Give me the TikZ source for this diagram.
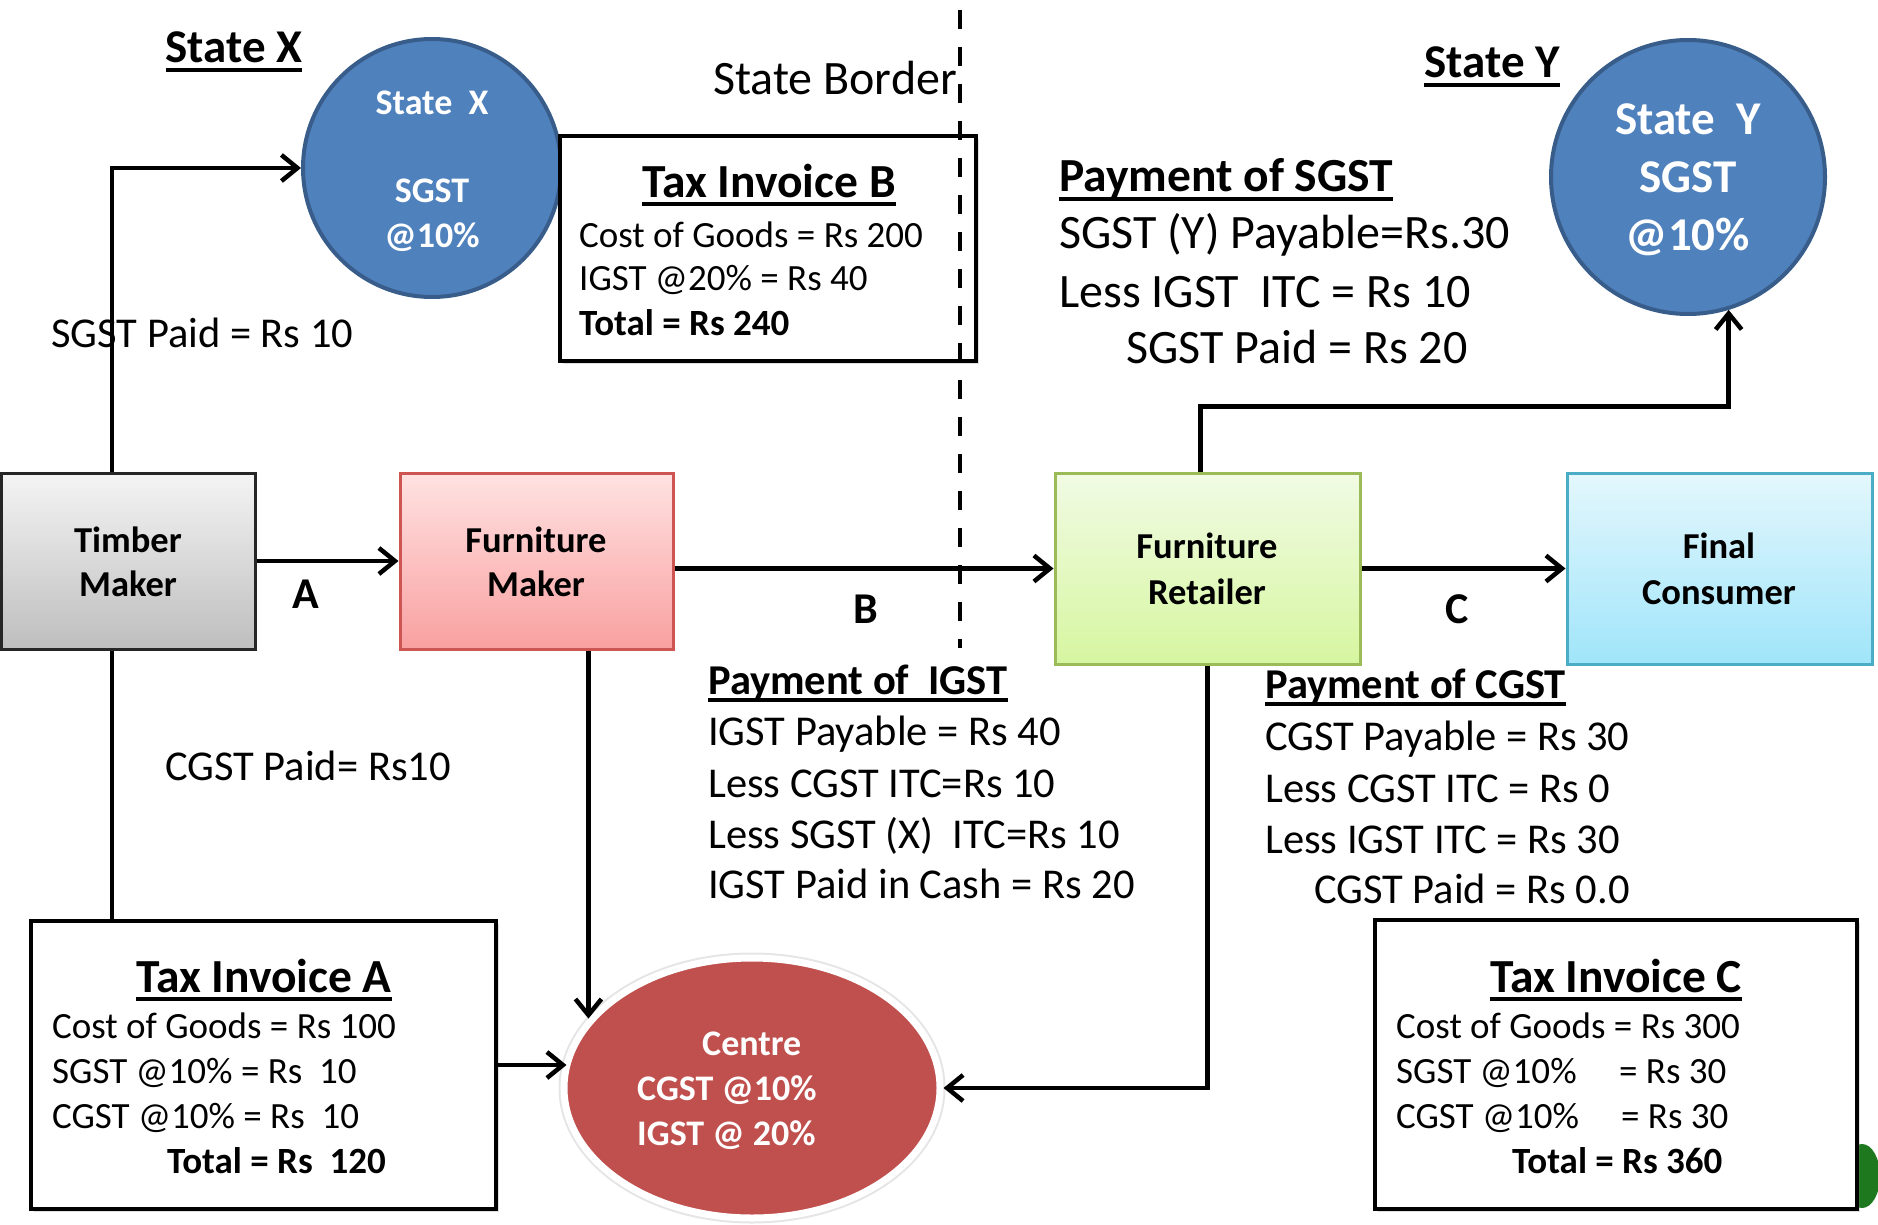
\documentclass[tikz,border=0pt]{standalone}
\usepackage{fontspec}
\setmainfont{Carlito}
\usetikzlibrary{arrows.meta,shapes.geometric,shadows}
\definecolor{sgstblue}{RGB}{79,129,189}
\definecolor{sgstdark}{RGB}{56,93,138}
\definecolor{centrered}{RGB}{192,80,77}
\definecolor{fmtop}{RGB}{255,226,226}
\definecolor{fmbot}{RGB}{249,160,160}
\definecolor{fmline}{RGB}{205,85,82}
\definecolor{frtop}{RGB}{241,251,228}
\definecolor{frbot}{RGB}{214,246,160}
\definecolor{frline}{RGB}{155,187,89}
\definecolor{fctop}{RGB}{228,247,253}
\definecolor{fcbot}{RGB}{160,229,250}
\definecolor{fcline}{RGB}{75,172,198}
\definecolor{tmtop}{RGB}{244,244,244}
\definecolor{tmbot}{RGB}{190,190,190}
\definecolor{logogreen}{RGB}{30,120,30}
\newcommand\myul[1]{\leavevmode\sbox0{#1}\rlap{\rule[-0.19em]{\wd0}{0.09em}}\usebox0}
\begin{document}
\begin{tikzpicture}[x=1pt,y=-1pt,
  txt/.style={inner sep=0pt, anchor=base west},
  ctxt/.style={inner sep=0pt, anchor=base},
  f37/.style={font=\fontsize{37}{44}\selectfont},
  f37b/.style={font=\fontsize{37}{44}\selectfont\bfseries},
  f42/.style={font=\fontsize{42.5}{50}\selectfont},
  f42b/.style={font=\fontsize{42.5}{50}\selectfont\bfseries},
  f46/.style={font=\fontsize{48}{56}\selectfont},
  f46b/.style={font=\fontsize{47}{56}\selectfont\bfseries},
  f47/.style={font=\fontsize{48}{56}\selectfont},
  f47b/.style={font=\fontsize{47.5}{56}\selectfont\bfseries},
  f36w/.style={font=\fontsize{36}{43}\selectfont\bfseries, text=white},
  f47w/.style={font=\fontsize{47}{56}\selectfont\bfseries, text=white},
  boxlbl/.style={font=\fontsize{36.5}{43}\selectfont\bfseries},
  flowbox/.style={rectangle, inner sep=0pt, line width=3pt},
  invbox/.style={rectangle, draw=black, fill=white, line width=4.5pt, inner sep=0pt,
    drop shadow={shadow xshift=3pt, shadow yshift=-3pt, opacity=0.25}},
  statecirc/.style={circle, fill=sgstblue, draw=sgstdark, line width=4pt, inner sep=0pt},
  conn/.style={line width=4.5pt},
  arr/.style={line width=4.5pt, -{Straight Barb[length=16pt,width=26pt]}},
  border/.style={line width=4.5pt, dash pattern=on 19pt off 18pt}
]
\useasboundingbox (0,0) rectangle (1878,1225);

% logo fragment at bottom right
\fill[logogreen] (1862,1176) ellipse [x radius=18, y radius=32];

% state circles
\node[statecirc, minimum size=258pt] (SX) at (432,168) {};
\node[statecirc, minimum size=274pt] (SY) at (1688,177) {};

% centre ellipse
\node[ellipse, minimum width=376pt, minimum height=260pt, inner sep=0pt,
  fill=centrered, draw=white, line width=7pt,
  preaction={draw=black!10, line width=11pt}] (Centre) at (752,1088) {};

% flow boxes
\node[flowbox, draw=black!85, top color=tmtop, bottom color=tmbot,
  minimum width=254pt, minimum height=176pt] (TM) at (128,561) {};
\node[flowbox, draw=fmline, top color=fmtop, bottom color=fmbot,
  minimum width=273pt, minimum height=176pt] (FM) at (536.5,561) {};
\node[flowbox, draw=frline, top color=frtop, bottom color=frbot,
  minimum width=305pt, minimum height=191pt] (FR) at (1207.5,568.5) {};
\node[flowbox, draw=fcline, top color=fctop, bottom color=fcbot,
  minimum width=305pt, minimum height=191pt] (FC) at (1719.5,568.5) {};

% invoice boxes
\node[invbox, minimum width=416pt, minimum height=225pt] (InvB) at (768,248.5) {};
\node[invbox, minimum width=465pt, minimum height=288pt] (InvA) at (263.5,1065) {};
\node[invbox, minimum width=482pt, minimum height=289pt] (InvC) at (1616,1064.5) {};

% connectors
\draw[arr] (TM.east) -- (FM.west);
\draw[arr] (FR.west -| FM.east) -- (FR.west);
\draw[arr] (FR.east) -- (FC.west);
\draw[arr] ([xshift=-16pt]TM.north) |- (SX.west);
\draw[conn] ([xshift=-16pt]TM.south) -- ([xshift=-16pt]TM.south |- InvA.north);
\draw[arr] (InvA.east) -- ([xshift=6pt]Centre.west |- InvA.east);
\draw[arr] (FM.south -| Centre.157) -- (Centre.157);
\draw[arr] (FR.south) |- (Centre.east);
\draw[arr] ([xshift=-7pt]FR.north) -- ++(0,-65) -| (SY.-73);

% state border
\coordinate (BorderTop) at (960,10);
\coordinate (BorderBot) at (960,648);
\draw[border] (BorderTop) -- (BorderBot);

% headings
\node[ctxt, f46b] (hX) at (234,63) {\myul{State X}};
\node[ctxt, f46b] (hY) at (1492,78) {\myul{State Y}};
\node[txt, f46] (hBorder) at (713,95) {State Border};

% circle texts
\node[ctxt, f36w] (sx1) at (432,115) {State\ \ X};
\node[ctxt, f36w] (sx2) at (432,203) {SGST};
\node[ctxt, f36w] (sx3) at (432,247) {@10\%};
\node[ctxt, f47w] (sy1) at (1688,135) {State\ \ Y};
\node[ctxt, f47w] (sy2) at (1688,193) {SGST};
\node[ctxt, f47w] (sy3) at (1688,250) {@10\%};

% centre texts
\node[txt, f36w] (c1) at (702,1055) {Centre};
\node[txt, f36w] (c2) at (637,1100) {CGST @10\%};
\node[txt, f36w] (c3) at (637,1145) {IGST @ 20\%};

% box labels
\node[ctxt, boxlbl] (tm1) at (128,552) {Timber};
\node[ctxt, boxlbl] (tm2) at (128,596) {Maker};
\node[ctxt, boxlbl] (fm1) at (536,552) {Furniture};
\node[ctxt, boxlbl] (fm2) at (536,596) {Maker};
\node[ctxt, boxlbl] (fr1) at (1207,558) {Furniture};
\node[ctxt, boxlbl] (fr2) at (1207,604) {Retailer};
\node[ctxt, boxlbl] (fc1) at (1719,558) {Final};
\node[ctxt, boxlbl] (fc2) at (1719,604) {Consumer};

% flow letters
\node[ctxt, font=\fontsize{44}{52}\selectfont\bfseries] (lA) at (306,608) {A};
\node[ctxt, font=\fontsize{44}{52}\selectfont\bfseries] (lB) at (866,623) {B};
\node[ctxt, font=\fontsize{44}{52}\selectfont\bfseries] (lC) at (1457,623) {C};

% side labels
\node[txt, f42] (sgstpaid) at (51,347) {SGST Paid = Rs 10};
\node[txt, f42] (cgstpaid) at (165,780) {CGST Paid= Rs10};

% invoice B
\node[ctxt, f47b] (ib0) at (769,197) {\myul{Tax Invoice B}};
\node[txt, f37] (ib1) at (579,247) {Cost of Goods = Rs 200};
\node[txt, f37] (ib2) at (579,290) {IGST @20\% = Rs 40};
\node[txt, f37b] (ib3) at (579,335) {Total = Rs 240};

% invoice A
\node[ctxt, f47b] (ia0) at (264,992) {\myul{Tax Invoice A}};
\node[txt, f37] (ia1) at (52,1038) {Cost of Goods = Rs 100};
\node[txt, f37] (ia2) at (52,1083) {SGST @10\% = Rs\ \ 10};
\node[txt, f37] (ia3) at (52,1128) {CGST @10\% = Rs\ \ 10};
\node[txt, f37b] (ia4) at (167,1173) {Total = Rs\ \ 120};

% invoice C
\node[ctxt, f47b] (ic0) at (1616,992) {\myul{Tax Invoice C}};
\node[txt, f37] (ic1) at (1396,1038) {Cost of Goods = Rs 300};
\node[txt, f37] (ic2) at (1396,1083) {\makebox[223pt][l]{SGST @10\%}= Rs 30};
\node[txt, f37] (ic3) at (1396,1128) {\makebox[225pt][l]{CGST @10\%}= Rs 30};
\node[txt, f37b] (ic4) at (1512,1173) {Total = Rs 360};

% payment of SGST
\node[txt, f47b] (ps0) at (1059,192) {\myul{Payment of SGST}};
\node[txt, f47] (ps1) at (1059,248) {SGST (Y) Payable=Rs.30};
\node[txt, f47] (ps2) at (1059,307) {Less IGST\ \ ITC = Rs 10};
\node[txt, f47] (ps3) at (1126,363) {SGST Paid = Rs 20};

% payment of IGST
\node[txt, f42b] (pi0) at (708,694) {\myul{Payment of\ \ IGST}};
\node[txt, f42] (pi1) at (708,745) {IGST Payable = Rs 40};
\node[txt, f42] (pi2) at (708,797) {Less CGST ITC=Rs 10};
\node[txt, f42] (pi3) at (708,848) {Less SGST (X)\ \ ITC=Rs 10};
\node[txt, f42] (pi4) at (708,898) {IGST Paid in Cash = Rs 20};

% payment of CGST
\node[txt, f42b] (pc0) at (1265,698) {\myul{Payment of CGST}};
\node[txt, f42] (pc1) at (1265,750) {CGST Payable = Rs 30};
\node[txt, f42] (pc2) at (1265,802) {Less CGST ITC = Rs 0};
\node[txt, f42] (pc3) at (1265,853) {Less IGST ITC = Rs 30};
\node[txt, f42] (pc4) at (1314,903) {CGST Paid = Rs 0.0};
\end{tikzpicture}
\end{document}
